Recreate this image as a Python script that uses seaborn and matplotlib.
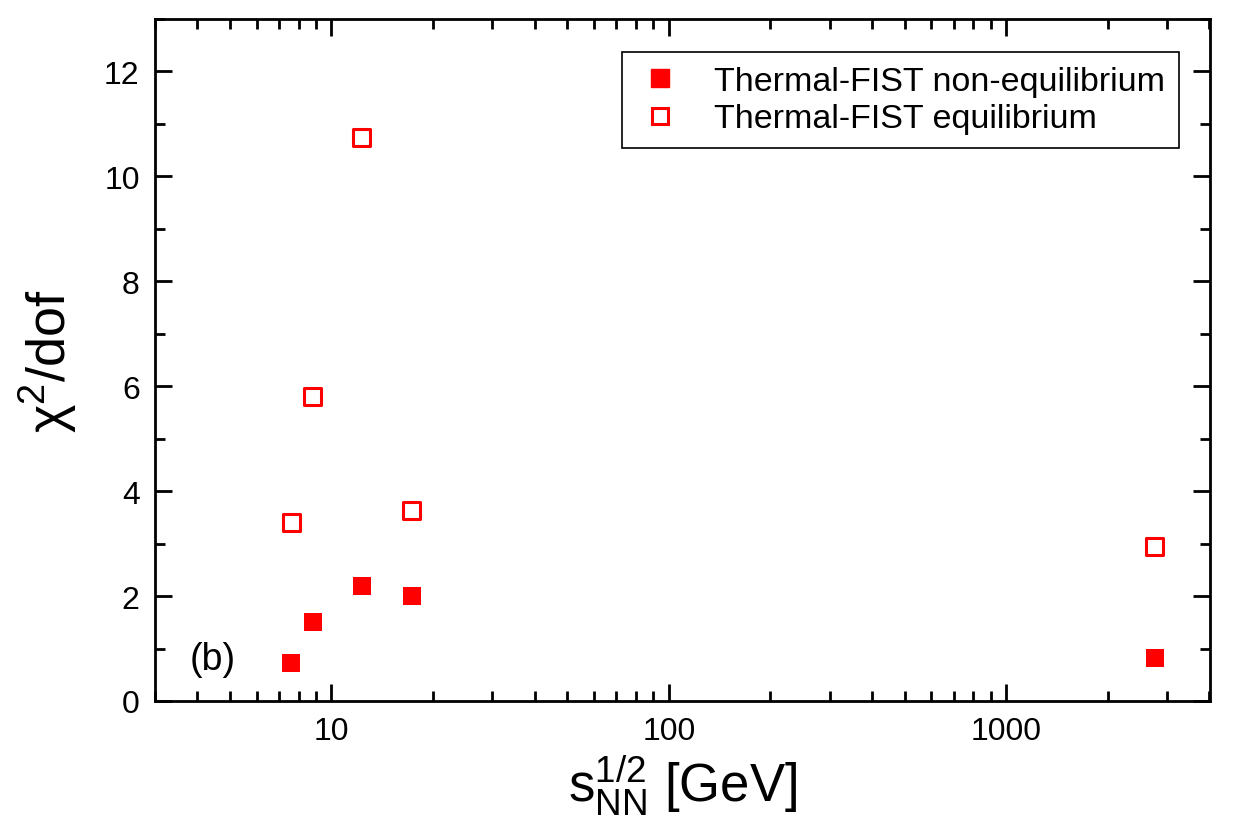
import numpy as np
import pandas as pd
import matplotlib
matplotlib.use("Agg")
import matplotlib.pyplot as plt
import seaborn as sns
from matplotlib.lines import Line2D
from matplotlib.ticker import LogLocator, MultipleLocator, FixedFormatter, FixedLocator

# collision energies (GeV) and fit quality
energies = [7.6, 8.8, 12.3, 17.3, 2760]
chi2_noneq = [0.73, 1.51, 2.19, 2.01, 0.82]
chi2_eq = [3.40, 5.80, 10.74, 3.64, 2.94]
series_names = ["Thermal-FIST non-equilibrium", "Thermal-FIST equilibrium"]

RED = "#ff0000"

sns.set_style("ticks")
plt.rcParams["font.family"] = ["Liberation Sans", "DejaVu Sans"]
plt.rcParams["mathtext.fontset"] = "custom"
plt.rcParams["mathtext.rm"] = "Liberation Sans"
plt.rcParams["mathtext.it"] = "Liberation Sans:italic"
plt.rcParams["mathtext.default"] = "regular"
plt.rcParams["text.color"] = "black"
plt.rcParams["axes.labelcolor"] = "black"

df = pd.DataFrame({"energy": energies, "noneq": chi2_noneq, "eq": chi2_eq})

fig = plt.figure(figsize=(12.42, 8.28), dpi=100)
ax = fig.add_axes([0.1248, 0.1522, 0.8494, 0.8236])

sns.scatterplot(data=df, x="energy", y="noneq", ax=ax, marker="s", s=160,
                facecolor=RED, edgecolor=RED, linewidth=0, zorder=3)
sns.scatterplot(data=df, x="energy", y="eq", ax=ax, marker="s", s=150,
                facecolor="none", edgecolor=RED, linewidth=2.2, zorder=3)

ax.set_xscale("log")
ax.set_xlim(3, 4020)
ax.set_ylim(0, 13)

ax.xaxis.set_major_locator(FixedLocator([10, 100, 1000]))
ax.xaxis.set_major_formatter(FixedFormatter(["10", "100", "1000"]))
ax.xaxis.set_minor_locator(LogLocator(base=10, subs=np.arange(2, 10)))
ax.xaxis.set_minor_formatter(plt.NullFormatter())
ax.yaxis.set_major_locator(MultipleLocator(2))
ax.yaxis.set_minor_locator(MultipleLocator(1))

for s in ax.spines.values():
    s.set_linewidth(2)
    s.set_color("black")

ax.tick_params(which="both", direction="in", top=True, right=True,
               width=2, colors="black", labelsize=23)
ax.tick_params(which="major", length=12, pad=11)
ax.tick_params(which="minor", length=7)

ax.set_xlabel(r"$\mathregular{s_{NN}^{1/2}}$ [GeV]", fontsize=38, labelpad=4)
ax.set_ylabel(r"$\mathregular{\chi^2}$/dof", fontsize=39, labelpad=18)

ax.text(0.033, 0.062, "(b)", transform=ax.transAxes, fontsize=27,
        ha="left", va="center")

handles = [
    Line2D([], [], marker="s", linestyle="none", markersize=12.5,
           markerfacecolor=RED, markeredgecolor=RED),
    Line2D([], [], marker="s", linestyle="none", markersize=11,
           markerfacecolor="none", markeredgecolor=RED, markeredgewidth=2.2),
]
leg = ax.legend(handles, series_names, loc="upper right", fontsize=24.5,
                frameon=True, fancybox=False, framealpha=1, edgecolor="black",
                bbox_to_anchor=(0.9706, 0.9516), borderpad=0.4, handletextpad=0.9,
                labelspacing=0.2, handlelength=1.4, borderaxespad=0)
leg.get_frame().set_linewidth(1.2)

fig.savefig("out.png", dpi=100)
